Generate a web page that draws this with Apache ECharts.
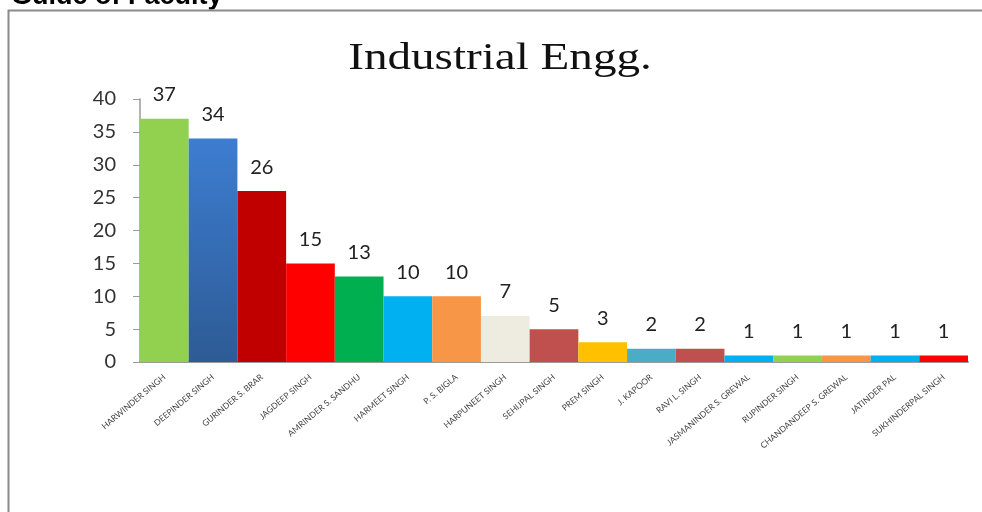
<!DOCTYPE html>
<html>
<head>
<meta charset="utf-8">
<script src="https://cdn.jsdelivr.net/npm/echarts@6/dist/echarts.min.js"></script>
<style>
  html, body { margin: 0; padding: 0; background: #fff; }
  #chart { width: 982px; height: 512px; }
</style>
</head>
<body>
<div id="chart"></div>
<script>
// Faculty names and the number of students guided by each
const categories = [
  'HARWINDER SINGH', 'DEEPINDER SINGH', 'GURINDER S. BRAR', 'JAGDEEP SINGH',
  'AMRINDER S. SANDHU', 'HARMEET SINGH', 'P. S. BIGLA', 'HARPUNEET SINGH',
  'SEHIJPAL SINGH', 'PREM SINGH', 'J. KAPOOR', 'RAVI L. SINGH',
  'JASMANINDER S. GREWAL', 'RUPINDER SINGH', 'CHANDANDEEP S. GREWAL',
  'JATINDER PAL', 'SUKHINDERPAL SINGH'
];
const values = [37, 34, 26, 15, 13, 10, 10, 7, 5, 3, 2, 2, 1, 1, 1, 1, 1];
const yTicks = [0, 5, 10, 15, 20, 25, 30, 35, 40];

// One colour per bar
const barColors = [
  '#92D050', null, '#C00000', '#FF0000', '#00B050', '#00B0F0', '#F79646',
  '#EEECE1', '#C0504D', '#FFC000', '#4BACC6', '#C0504D', '#00B0F0',
  '#92D050', '#F79646', '#00B0F0', '#FF0000'
];
const blueGradient = new echarts.graphic.LinearGradient(0, 0, 0, 1, [
  { offset: 0, color: '#3D7DD1' },
  { offset: 1, color: '#2D5B95' }
]);

const chart = echarts.init(document.getElementById('chart'));
chart.setOption({
  animation: false,
  graphic: [
    {
      type: 'text', x: 11, y: 10,
      style: {
        text: 'Guide of Faculty', font: 'bold 27px "Liberation Sans", Arial',
        fill: '#000', verticalAlign: 'bottom'
      }
    },
    {
      type: 'rect', silent: true,
      shape: { x: 0, y: 9.5, width: 982, height: 600 },
      style: { fill: '#fff' }
    },
    {
      type: 'polyline', silent: true,
      shape: { points: [[8.5, 600], [8.5, 10.5], [990, 10.5]] },
      style: { stroke: '#8a8a8a', lineWidth: 2, fill: null }
    },
    {
      // chart heading, drawn slightly widened
      type: 'text', x: 500, y: 59, scaleX: 1.24,
      style: {
        text: 'Industrial Engg.',
        font: '38px "Liberation Serif", "Times New Roman", serif',
        fill: '#111', align: 'center', verticalAlign: 'middle'
      }
    }
  ],
  grid: { left: 140, right: 14, top: 99, bottom: 150 },
  xAxis: {
    type: 'category',
    data: categories,
    axisLine: { lineStyle: { color: '#9a9a9a', width: 2 } },
    axisTick: { show: false },
    axisLabel: {
      interval: 0, rotate: 40, fontSize: 8.5, color: '#444',
      fontFamily: 'Lato, "Open Sans", sans-serif', margin: 14
    }
  },
  yAxis: {
    type: 'value', min: 0, max: 40, interval: 5,
    axisLine: { show: true, lineStyle: { color: '#9a9a9a', width: 1.5 } },
    axisTick: { show: true, length: 7, lineStyle: { color: '#9a9a9a' } },
    splitLine: { show: false },
    axisLabel: {
      fontSize: 20, color: '#333', margin: 24,
      fontFamily: 'Lato, "Open Sans", sans-serif',
      formatter: v => (yTicks.includes(v) ? String(v) : '')
    }
  },
  series: [{
    type: 'bar',
    barCategoryGap: '0%',
    data: values.map((v, i) => ({
      value: v,
      itemStyle: { color: barColors[i] || blueGradient }
    })),
    label: {
      show: true, position: 'top', distance: 14,
      fontSize: 20, color: '#222',
      fontFamily: 'Lato, "Open Sans", sans-serif'
    }
  }]
});
</script>
</body>
</html>
